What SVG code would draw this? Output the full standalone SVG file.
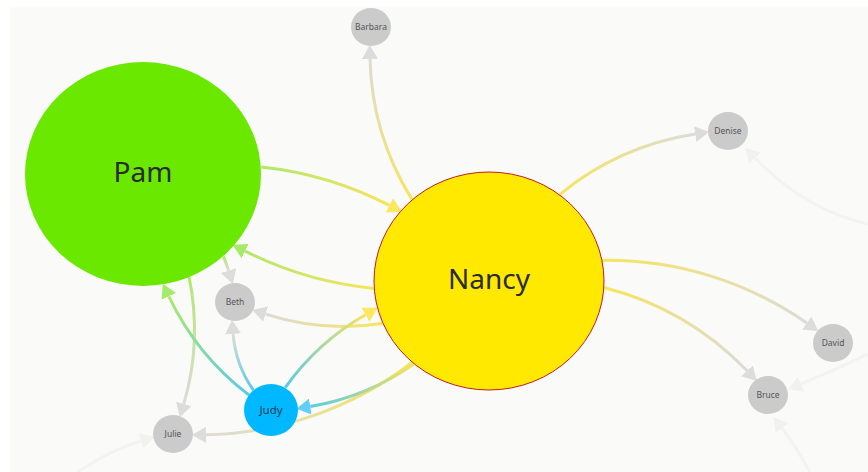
<svg xmlns="http://www.w3.org/2000/svg" width="868" height="472" viewBox="0 0 868 472">
  <style>
    .edge { fill: none; stroke-width: 3; }
    .faint { fill: none; stroke: #f3f3f0; stroke-width: 3; }
    .small { fill: #cbcbcb; }
    .lbl-s { font-family: "Noto Sans", "DejaVu Sans", sans-serif; font-size: 8.5px; fill: #555555; text-anchor: middle; }
    .lbl-l { font-family: "Noto Sans", "DejaVu Sans", sans-serif; font-size: 28px; fill: #2b2b2b; text-anchor: middle; }
  </style>
  <defs>
    <marker id="ah-yellow" viewBox="0 0 14 16" refX="0" refY="8" markerWidth="14" markerHeight="16" markerUnits="userSpaceOnUse" orient="auto">
      <path d="M0,0 L14,8 L0,16 z" fill="#fce760"/>
    </marker>
    <marker id="ah-green" viewBox="0 0 14 16" refX="0" refY="8" markerWidth="14" markerHeight="16" markerUnits="userSpaceOnUse" orient="auto">
      <path d="M0,0 L14,8 L0,16 z" fill="#a6ea6a"/>
    </marker>
    <marker id="ah-gray" viewBox="0 0 14 16" refX="0" refY="8" markerWidth="14" markerHeight="16" markerUnits="userSpaceOnUse" orient="auto">
      <path d="M0,0 L14,8 L0,16 z" fill="#dcdcdc"/>
    </marker>
    <marker id="ah-cyan" viewBox="0 0 14 16" refX="0" refY="8" markerWidth="14" markerHeight="16" markerUnits="userSpaceOnUse" orient="auto">
      <path d="M0,0 L14,8 L0,16 z" fill="#62cdf5"/>
    </marker>
    <marker id="ah-faint" viewBox="0 0 14 16" refX="0" refY="8" markerWidth="14" markerHeight="16" markerUnits="userSpaceOnUse" orient="auto">
      <path d="M0,0 L14,8 L0,16 z" fill="#f1f1ee"/>
    </marker>

    <!-- edge gradients: source colour to target colour -->
    <linearGradient id="g-pam-nancy" gradientUnits="userSpaceOnUse" x1="261.2" y1="166.9" x2="389.4" y2="205.3">
      <stop offset="0" stop-color="#b0e86e"/><stop offset="1" stop-color="#f7e45c"/>
    </linearGradient>
    <linearGradient id="g-nancy-pam" gradientUnits="userSpaceOnUse" x1="374" y1="288.4" x2="245.1" y2="251.1">
      <stop offset="0" stop-color="#f7e45c"/><stop offset="1" stop-color="#b0e86e"/>
    </linearGradient>
    <linearGradient id="g-nancy-barbara" gradientUnits="userSpaceOnUse" x1="411.9" y1="199.4" x2="370" y2="58.9">
      <stop offset="0" stop-color="#f7e45c"/><stop offset="1" stop-color="#dcdcd6"/>
    </linearGradient>
    <linearGradient id="g-nancy-denise" gradientUnits="userSpaceOnUse" x1="560" y1="194.3" x2="695.2" y2="134.1">
      <stop offset="0" stop-color="#f7e45c"/><stop offset="1" stop-color="#dcdcd6"/>
    </linearGradient>
    <linearGradient id="g-nancy-david" gradientUnits="userSpaceOnUse" x1="602.2" y1="260.4" x2="806.8" y2="323">
      <stop offset="0" stop-color="#f7e45c"/><stop offset="1" stop-color="#dcdcd6"/>
    </linearGradient>
    <linearGradient id="g-nancy-bruce" gradientUnits="userSpaceOnUse" x1="602.8" y1="287.2" x2="747.1" y2="370.8">
      <stop offset="0" stop-color="#f7e45c"/><stop offset="1" stop-color="#dcdcd6"/>
    </linearGradient>
    <linearGradient id="g-nancy-beth" gradientUnits="userSpaceOnUse" x1="382.1" y1="323.5" x2="265.6" y2="314.1">
      <stop offset="0" stop-color="#f7e45c"/><stop offset="1" stop-color="#dcdcd6"/>
    </linearGradient>
    <linearGradient id="g-judy-nancy" gradientUnits="userSpaceOnUse" x1="285.2" y1="387.6" x2="365.5" y2="314.7">
      <stop offset="0" stop-color="#56cbe6"/><stop offset="1" stop-color="#f7e45c"/>
    </linearGradient>
    <linearGradient id="g-nancy-judy" gradientUnits="userSpaceOnUse" x1="413.8" y1="364" x2="310.3" y2="406.5">
      <stop offset="0" stop-color="#f7e45c"/><stop offset="1" stop-color="#56cbe6"/>
    </linearGradient>
    <linearGradient id="g-nancy-julie" gradientUnits="userSpaceOnUse" x1="412.1" y1="362.5" x2="206" y2="434.8">
      <stop offset="0" stop-color="#f7e45c"/><stop offset="1" stop-color="#dcdcd6"/>
    </linearGradient>
    <linearGradient id="g-pam-beth" gradientUnits="userSpaceOnUse" x1="223.4" y1="256.3" x2="228.6" y2="270.6">
      <stop offset="0" stop-color="#b0e86e"/><stop offset="1" stop-color="#dcdcd6"/>
    </linearGradient>
    <linearGradient id="g-pam-julie" gradientUnits="userSpaceOnUse" x1="188.9" y1="276.2" x2="183.8" y2="403.9">
      <stop offset="0" stop-color="#b0e86e"/><stop offset="1" stop-color="#dcdcd6"/>
    </linearGradient>
    <linearGradient id="g-judy-pam" gradientUnits="userSpaceOnUse" x1="249.1" y1="395.1" x2="168.8" y2="296.3">
      <stop offset="0" stop-color="#56cbe6"/><stop offset="1" stop-color="#b0e86e"/>
    </linearGradient>
    <linearGradient id="g-judy-beth" gradientUnits="userSpaceOnUse" x1="253.4" y1="390.2" x2="233.1" y2="334">
      <stop offset="0" stop-color="#56cbe6"/><stop offset="1" stop-color="#dcdcd6"/>
    </linearGradient>
  </defs>

  <!-- canvas -->
  <rect x="0" y="0" width="868" height="472" fill="#ffffff"/>
  <rect x="10" y="7" width="858" height="465" fill="#fafaf8"/>

  <g id="connectors">
    <!-- links to nodes outside the visible area -->
    <path class="faint" d="M868,224 Q805,210 755,158" marker-end="url(#ah-faint)"/>
    <path class="faint" d="M868,354 Q830,372 801,384" marker-end="url(#ah-faint)"/>
    <path class="faint" d="M810,472 Q795,445 782,428" marker-end="url(#ah-faint)"/>
    <path class="faint" d="M78,472 Q110,450 141,441" marker-end="url(#ah-faint)"/>

    <path class="edge" stroke="url(#g-pam-nancy)" d="M261.2,166.9 A362.2,362.2 0 0,1 389.4,205.3" marker-end="url(#ah-yellow)"/>
    <path class="edge" stroke="url(#g-nancy-pam)" d="M374,288.4 A362.2,362.2 0 0,1 245.1,251.1" marker-end="url(#ah-green)"/>
    <path class="edge" stroke="url(#g-nancy-barbara)" d="M411.9,199.4 A280.1,280.1 0 0,1 370,58.9" marker-end="url(#ah-gray)"/>
    <path class="edge" stroke="url(#g-nancy-denise)" d="M560,194.3 A282.2,282.2 0 0,1 695.2,134.1" marker-end="url(#ah-gray)"/>
    <path class="edge" stroke="url(#g-nancy-david)" d="M602.2,260.4 A349.5,349.5 0 0,1 806.8,323" marker-end="url(#ah-gray)"/>
    <path class="edge" stroke="url(#g-nancy-bruce)" d="M602.8,287.2 A301.4,301.4 0 0,1 747.1,370.8" marker-end="url(#ah-gray)"/>
    <path class="edge" stroke="url(#g-nancy-beth)" d="M382.1,323.5 A254.9,254.9 0 0,1 265.6,314.1" marker-end="url(#ah-gray)"/>
    <path class="edge" stroke="url(#g-nancy-julie)" d="M412.1,362.5 A351.1,351.1 0 0,1 206,434.8" marker-end="url(#ah-gray)"/>
    <path class="edge" stroke="url(#g-judy-nancy)" d="M285.2,387.6 A253.3,253.3 0 0,1 365.5,314.7" marker-end="url(#ah-yellow)"/>
    <path class="edge" stroke="url(#g-nancy-judy)" d="M413.8,364 A253.3,253.3 0 0,1 310.3,406.5" marker-end="url(#ah-cyan)"/>
    <path class="edge" stroke="url(#g-pam-beth)" d="M223.4,256.3 A157.6,157.6 0 0,1 228.6,270.6" marker-end="url(#ah-gray)"/>
    <path class="edge" stroke="url(#g-pam-julie)" d="M188.9,276.2 A261.7,261.7 0 0,1 183.8,403.9" marker-end="url(#ah-gray)"/>
    <path class="edge" stroke="url(#g-judy-pam)" d="M249.1,395.1 A268.5,268.5 0 0,1 168.8,296.3" marker-end="url(#ah-green)"/>
    <path class="edge" stroke="url(#g-judy-beth)" d="M253.4,390.2 A113.8,113.8 0 0,1 233.1,334" marker-end="url(#ah-gray)"/>
  </g>

  <g id="pam">
    <ellipse cx="143" cy="174" rx="118" ry="112" fill="#6ae800"/>
    <text class="lbl-l" x="143" y="182">Pam</text>
  </g>
  <g id="nancy">
    <ellipse cx="489" cy="281" rx="115" ry="109" fill="#ffe900" stroke="#c41a2a" stroke-width="1"/>
    <text class="lbl-l" x="489" y="289">Nancy</text>
  </g>
  <g id="barbara">
    <ellipse class="small" cx="371" cy="27" rx="20" ry="19"/>
    <text class="lbl-s" x="371" y="30">Barbara</text>
  </g>
  <g id="denise">
    <ellipse class="small" cx="728" cy="131" rx="20" ry="19"/>
    <text class="lbl-s" x="728" y="134">Denise</text>
  </g>
  <g id="david">
    <ellipse class="small" cx="833" cy="343" rx="20" ry="19"/>
    <text class="lbl-s" x="833" y="346">David</text>
  </g>
  <g id="bruce">
    <ellipse class="small" cx="768" cy="395" rx="20" ry="19"/>
    <text class="lbl-s" x="768" y="398">Bruce</text>
  </g>
  <g id="beth">
    <ellipse class="small" cx="235" cy="302" rx="20" ry="19"/>
    <text class="lbl-s" x="235" y="305">Beth</text>
  </g>
  <g id="julie">
    <ellipse class="small" cx="173" cy="434" rx="20" ry="19"/>
    <text class="lbl-s" x="173" y="437">Julie</text>
  </g>
  <g id="judy">
    <ellipse cx="271" cy="410" rx="27" ry="26" fill="#00b8ff"/>
    <text x="271" y="414" text-anchor="middle" font-family="Noto Sans, DejaVu Sans, sans-serif" font-size="11.5" fill="#0f3d52">Judy</text>
  </g>
</svg>
